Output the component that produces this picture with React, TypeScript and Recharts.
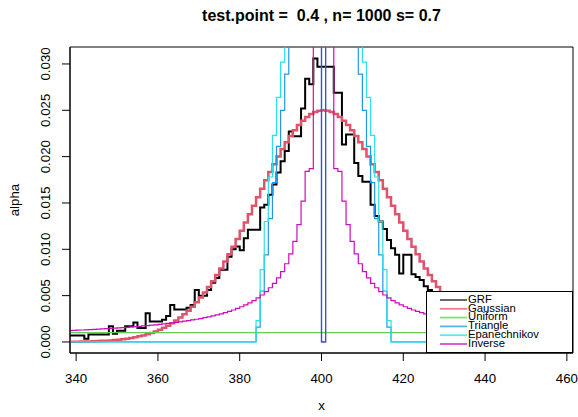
import { LineChart, Line, XAxis, YAxis, ReferenceArea, Legend } from "recharts";

const FONT = '"Liberation Sans", Arial, Helvetica, sans-serif';

// x grid: one bin per unit, 338 .. 462
const xs = Array.from({ length: 125 }, (_, i) => 338 + i);

const grf = [
  0.0007, 0.0007, 0.0007, 0.0007, 0.00036, 0.0008, 0.0008, 0.0008, 0.0008, 0.0008,
  0.0017, 0.0009, 0.0012, 0.0012, 0.0017, 0.0017, 0.0021, 0.0015, 0.0015, 0.0031,
  0.0022, 0.0022, 0.0022, 0.0024, 0.0028, 0.004, 0.0035, 0.0035, 0.0035, 0.0037,
  0.004, 0.0056, 0.005, 0.005, 0.0056, 0.0064, 0.0069, 0.0078, 0.0078, 0.0092,
  0.01, 0.0103, 0.0099, 0.0112, 0.0121, 0.0121, 0.0121, 0.0145, 0.0148, 0.0159,
  0.017, 0.0183, 0.0195, 0.0206, 0.0227, 0.0222, 0.0222, 0.0252, 0.0284, 0.0278,
  0.0306, 0.0297, 0.0297, 0.0297, 0.0297, 0.0269, 0.0269, 0.0213, 0.0224, 0.0224,
  0.0193, 0.0179, 0.0173, 0.0173, 0.0148, 0.0136, 0.013, 0.0122, 0.011, 0.0101,
  0.0094, 0.0074, 0.0094, 0.0094, 0.0073, 0.007, 0.0067, 0.006, 0.0056, 0.0052,
  0.005, 0.0047, 0.0045, 0.0042, 0.004, 0.0037, 0.0035, 0.0032, 0.003, 0.0028,
  0.0026, 0.0024, 0.0022, 0.0021, 0.0019, 0.0018, 0.0016, 0.0015, 0.0014, 0.0013,
  0.0012, 0.0011, 0.001, 0.001, 0.0009, 0.0009, 0.0008, 0.0008, 0.0007, 0.0007,
  0.0007, 0.0006, 0.0006, 0.0006, 0.0006,
];

const gaussian = [
  0.00002, 0.00002, 0.00003, 0.00004, 0.00005, 0.00006, 0.00008, 0.0001, 0.00012, 0.00014,
  0.00017, 0.00021, 0.00025, 0.0003, 0.00036, 0.00043, 0.00051, 0.00061, 0.00071, 0.00084,
  0.00098, 0.00114, 0.00132, 0.00153, 0.00176, 0.00202, 0.00231, 0.00264, 0.00299, 0.00338,
  0.00381, 0.00428, 0.00479, 0.00534, 0.00592, 0.00655, 0.00722, 0.00793, 0.00868, 0.00946,
  0.01028, 0.01112, 0.01199, 0.01288, 0.01379, 0.0147, 0.01562, 0.01654, 0.01744, 0.01833,
  0.01919, 0.02002, 0.02081, 0.02154, 0.02223, 0.02285, 0.0234, 0.02388, 0.02428, 0.02459,
  0.02482, 0.02495, 0.025, 0.02495, 0.02482, 0.02459, 0.02428, 0.02388, 0.0234, 0.02285,
  0.02223, 0.02154, 0.02081, 0.02002, 0.01919, 0.01833, 0.01744, 0.01654, 0.01562, 0.0147,
  0.01379, 0.01288, 0.01199, 0.01112, 0.01028, 0.00946, 0.00868, 0.00793, 0.00722, 0.00655,
  0.00592, 0.00534, 0.00479, 0.00428, 0.00381, 0.00338, 0.00299, 0.00264, 0.00231, 0.00202,
  0.00176, 0.00153, 0.00132, 0.00114, 0.00098, 0.00084, 0.00071, 0.00061, 0.00051, 0.00043,
  0.00036, 0.0003, 0.00025, 0.00021, 0.00017, 0.00014, 0.00012, 0.0001, 0.00008, 0.00006,
  0.00005, 0.00004, 0.00003, 0.00002, 0.00002,
];

const uniform = [
  0.001, 0.001, 0.001, 0.001, 0.001, 0.001, 0.001, 0.001, 0.001, 0.001,
  0.001, 0.001, 0.001, 0.001, 0.001, 0.001, 0.001, 0.001, 0.001, 0.001,
  0.001, 0.001, 0.001, 0.001, 0.001, 0.001, 0.001, 0.001, 0.001, 0.001,
  0.001, 0.001, 0.001, 0.001, 0.001, 0.001, 0.001, 0.001, 0.001, 0.001,
  0.001, 0.001, 0.001, 0.001, 0.001, 0.001, 0.001, 0.001, 0.001, 0.001,
  0.001, 0.001, 0.001, 0.001, 0.001, 0.001, 0.001, 0.001, 0.001, 0.001,
  0.001, 0.001, 0.001, 0.001, 0.001, 0.001, 0.001, 0.001, 0.001, 0.001,
  0.001, 0.001, 0.001, 0.001, 0.001, 0.001, 0.001, 0.001, 0.001, 0.001,
  0.001, 0.001, 0.001, 0.001, 0.001, 0.001, 0.001, 0.001, 0.001, 0.001,
  0.001, 0.001, 0.001, 0.001, 0.001, 0.001, 0.001, 0.001, 0.001, 0.001,
  0.001, 0.001, 0.001, 0.001, 0.001, 0.001, 0.001, 0.001, 0.001, 0.001,
  0.001, 0.001, 0.001, 0.001, 0.001, 0.001, 0.001, 0.001, 0.001, 0.001,
  0.001, 0.001, 0.001, 0.001, 0.001,
];

const triangle = [
  0, 0, 0, 0, 0, 0, 0, 0, 0, 0,
  0, 0, 0, 0, 0, 0, 0, 0, 0, 0,
  0, 0, 0, 0, 0, 0, 0, 0, 0, 0,
  0, 0, 0, 0, 0, 0, 0, 0, 0, 0,
  0, 0, 0, 0, 0, 0, 0.0016, 0.0055, 0.0094, 0.0133,
  0.0172, 0.0211, 0.025, 0.0289, 0.0328, 0.0367, 0.0406, 0.0445, 0.0484, 0.0523,
  0.0562, 0.0601, 0, 0.0601, 0.0562, 0.0523, 0.0484, 0.0445, 0.0406, 0.0367,
  0.0328, 0.0289, 0.025, 0.0211, 0.0172, 0.0133, 0.0094, 0.0055, 0.0016, 0,
  0, 0, 0, 0, 0, 0, 0, 0, 0, 0,
  0, 0, 0, 0, 0, 0, 0, 0, 0, 0,
  0, 0, 0, 0, 0, 0, 0, 0, 0, 0,
  0, 0, 0, 0, 0, 0, 0, 0, 0, 0,
  0, 0, 0, 0, 0,
];

const epanechnikov = [
  0, 0, 0, 0, 0, 0, 0, 0, 0, 0,
  0, 0, 0, 0, 0, 0, 0, 0, 0, 0,
  0, 0, 0, 0, 0, 0, 0, 0, 0, 0,
  0, 0, 0, 0, 0, 0, 0, 0, 0, 0,
  0, 0, 0, 0, 0, 0, 0.0023, 0.0078, 0.013, 0.0178,
  0.0223, 0.0264, 0.0302, 0.0335, 0.0366, 0.0393, 0.0416, 0.0435, 0.0451, 0.0464,
  0.0473, 0.0478, 0, 0.0478, 0.0473, 0.0464, 0.0451, 0.0435, 0.0416, 0.0393,
  0.0366, 0.0335, 0.0302, 0.0264, 0.0223, 0.0178, 0.013, 0.0078, 0.0023, 0,
  0, 0, 0, 0, 0, 0, 0, 0, 0, 0,
  0, 0, 0, 0, 0, 0, 0, 0, 0, 0,
  0, 0, 0, 0, 0, 0, 0, 0, 0, 0,
  0, 0, 0, 0, 0, 0, 0, 0, 0, 0,
  0, 0, 0, 0, 0,
];

const inverse = [
  0.00123, 0.00125, 0.00127, 0.00129, 0.00131, 0.00133, 0.00136, 0.00138, 0.00141, 0.00143,
  0.00146, 0.00149, 0.00152, 0.00155, 0.00158, 0.00162, 0.00165, 0.00169, 0.00173, 0.00177,
  0.00181, 0.00185, 0.0019, 0.00195, 0.002, 0.00205, 0.00211, 0.00217, 0.00224, 0.0023,
  0.00238, 0.00245, 0.00253, 0.00262, 0.00271, 0.00281, 0.00292, 0.00304, 0.00317, 0.0033,
  0.00345, 0.00362, 0.0038, 0.004, 0.00422, 0.00447, 0.00475, 0.00507, 0.00543, 0.00585,
  0.00633, 0.00691, 0.0076, 0.00844, 0.0095, 0.01086, 0.01267, 0.0152, 0.0184, 0.0187,
  0.038, 0.076, 0, 0.076, 0.038, 0.0187, 0.0184, 0.0152, 0.01267, 0.01086,
  0.0095, 0.00844, 0.0076, 0.00691, 0.00633, 0.00585, 0.00543, 0.00507, 0.00475, 0.00447,
  0.00422, 0.004, 0.0038, 0.00362, 0.00345, 0.0033, 0.00317, 0.00304, 0.00292, 0.00281,
  0.00271, 0.00262, 0.00253, 0.00245, 0.00238, 0.0023, 0.00224, 0.00217, 0.00211, 0.00205,
  0.002, 0.00195, 0.0019, 0.00185, 0.00181, 0.00177, 0.00173, 0.00169, 0.00165, 0.00162,
  0.00158, 0.00155, 0.00152, 0.00149, 0.00146, 0.00143, 0.00141, 0.00138, 0.00136, 0.00133,
  0.00131, 0.00129, 0.00127, 0.00125, 0.00123,
];

const xTicks = [340, 360, 380, 400, 420, 440, 460];
const yTicks = [0, 0.005, 0.01, 0.015, 0.02, 0.025, 0.03];
const xDomain: [number, number] = [338.5, 461.5];
const yDomain: [number, number] = [-0.00119, 0.03183];

const seriesKeys = ["grf", "gaussian", "uniform", "triangle", "epanechnikov", "inverse"];
const seriesNames = ["GRF", "Gaussian", "Uniform", "Triangle", "Epanechnikov", "Inverse"];
const seriesColors = ["#000000", "#DF536B", "#61D04F", "#2297E6", "#28E2E5", "#CD0BBC"];
const seriesWidths = [2, 2.5, 1.2, 1.2, 1.2, 1.2];

const data = xs.map((x, i) => ({
  x,
  grf: grf[i],
  gaussian: gaussian[i],
  uniform: uniform[i],
  triangle: triangle[i],
  epanechnikov: epanechnikov[i],
  inverse: inverse[i],
}));

function YTick({ x, y, payload }: any) {
  return (
    <text
      x={x}
      y={y}
      transform={`rotate(-90 ${x} ${y})`}
      textAnchor="middle"
      fontSize={13.3}
      fill="#000"
    >
      {Number(payload.value).toFixed(3)}
    </text>
  );
}

function LegendBox() {
  return (
    <svg width={145} height={60} style={{ display: "block" }}>
      {seriesNames.map((name, i) => {
        const ly = 8 + i * 8.8;
        return (
          <g key={name}>
            <line x1={13} x2={40} y1={ly} y2={ly} stroke={seriesColors[i]} strokeWidth={i === 0 ? 1.2 : 1.8} strokeOpacity={i === 0 ? 1 : 0.75} />
            <text x={41} y={ly + 2.8} fontSize={11.3} fill="#000" fontFamily={FONT}>
              {name}
            </text>
          </g>
        );
      })}
    </svg>
  );
}

export default function App() {
  return (
    <div style={{ position: "absolute", left: 0, top: 0, width: 578, height: 417, background: "#fff", fontFamily: FONT }}>
      <LineChart width={578} height={417} data={data} margin={{ top: 47, right: 5, left: 0, bottom: 0 }}>
        <ReferenceArea x1={xDomain[0]} x2={xDomain[1]} y1={yDomain[0]} y2={yDomain[1]} fill="none" stroke="#000" strokeWidth={1} />
        <XAxis
          dataKey="x"
          type="number"
          domain={xDomain}
          ticks={xTicks}
          interval={0}
          allowDataOverflow
          height={64}
          tickSize={8}
          tickMargin={13}
          axisLine={{ stroke: "#000" }}
          tickLine={{ stroke: "#000" }}
          tick={{ fill: "#000", fontSize: 13.3 }}
        />
        <YAxis
          type="number"
          domain={yDomain}
          ticks={yTicks}
          interval={0}
          allowDataOverflow
          width={70}
          tickSize={8}
          tickMargin={12}
          axisLine={{ stroke: "#000" }}
          tickLine={{ stroke: "#000" }}
          tick={<YTick />}
        />
        {seriesKeys.map((k, i) => (
          <Line
            key={k}
            type="stepAfter"
            dataKey={k}
            name={seriesNames[i]}
            stroke={seriesColors[i]}
            strokeWidth={seriesWidths[i]}
            dot={false}
            activeDot={false}
            isAnimationActive={false}
          />
        ))}
        <Legend
          layout="vertical"
          align="center"
          verticalAlign="middle"
          content={() => <LegendBox />}
          wrapperStyle={{
            left: 426,
            top: 291,
            width: 147,
            height: 62,
            background: "#fff",
            border: "1px solid #000",
            boxSizing: "border-box",
            margin: 0,
            padding: 0,
          }}
        />
        <text x={321.5} y={21} textAnchor="middle" fontSize={16} fontWeight="bold" fill="#000" style={{ whiteSpace: "pre" }}>
          {"test.point =  0.4 , n= 1000 s= 0.7"}
        </text>
        <text x={321.5} y={410} textAnchor="middle" fontSize={13.3} fill="#000">
          x
        </text>
        <text x={19} y={200} transform="rotate(-90 19 200)" textAnchor="middle" fontSize={13.3} fill="#000">
          alpha
        </text>
      </LineChart>
    </div>
  );
}
